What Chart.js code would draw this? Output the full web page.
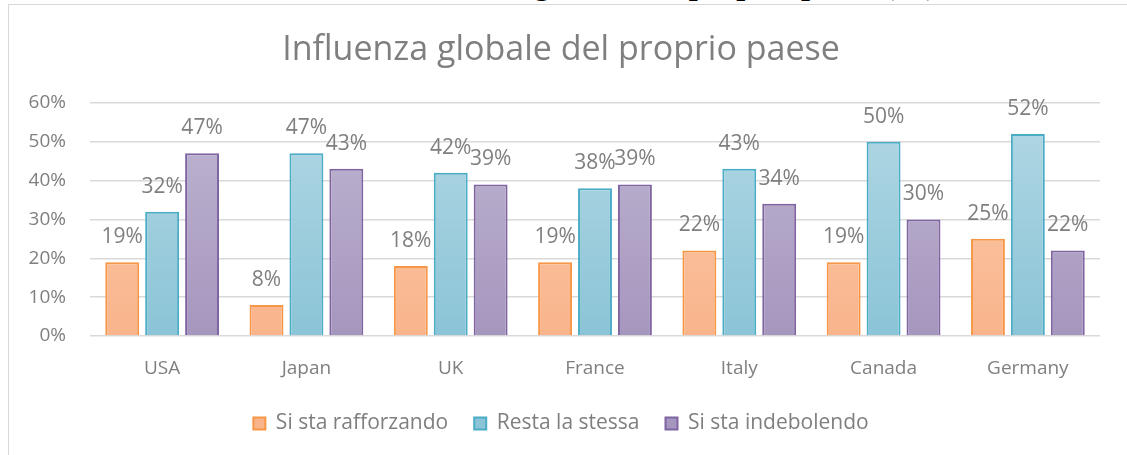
<!DOCTYPE html>
<html>
<head>
<meta charset="utf-8">
<script src="https://cdn.jsdelivr.net/npm/chart.js@4/dist/chart.umd.min.js"></script>
<style>
    html, body { margin: 0; padding: 0; background: #fff; overflow: hidden; width: 1127px; height: 455px; }
    #heading { position: absolute; right: 190px; top: -33px; font: bold 32px "Liberation Serif"; line-height: 32px; white-space: nowrap; color: #000; }
    #frame { position: absolute; left: 8px; top: 4px; width: 1200px; height: 500px; border-left: 1.5px solid #d9d9d9; border-top: 1.5px solid #d9d9d9; }
    #wrap { position: absolute; left: 0; top: 0; width: 1127px; height: 455px; }
</style>
</head>
<body>
<div id="heading">Influenza globale del proprio paese (%)</div>
<div id="frame"></div>
<div id="wrap"><canvas id="chart"></canvas></div>
<script>
    var countries = ['USA', 'Japan', 'UK', 'France', 'Italy', 'Canada', 'Germany'];
    var rafforzando = [19, 8, 18, 19, 22, 19, 25];
    var stessa = [32, 47, 42, 38, 43, 50, 52];
    var indebolendo = [47, 43, 39, 39, 34, 30, 22];
    var seriesNames = ['Si sta rafforzando', 'Resta la stessa', 'Si sta indebolendo'];
    var yMax = 60, yStep = 10;

    var grey = '#7f7f7f';
    var font = 'Open Sans';

    function gradient(top, bottom) {
        return function (ctx) {
            var area = ctx.chart.chartArea;
            if (!area) return bottom;
            var g = ctx.chart.ctx.createLinearGradient(0, area.top, 0, area.bottom);
            g.addColorStop(0, top);
            g.addColorStop(1, bottom);
            return g;
        };
    }

    // value labels above the bars
    var valueLabels = {
        id: 'valueLabels',
        afterDatasetsDraw: function (chart) {
            var ctx = chart.ctx;
            ctx.save();
            ctx.font = '21px "' + font + '"';
            ctx.fillStyle = grey;
            ctx.textAlign = 'center';
            ctx.textBaseline = 'middle';
            chart.data.datasets.forEach(function (ds, i) {
                chart.getDatasetMeta(i).data.forEach(function (bar, j) {
                    ctx.fillText(ds.data[j] + '%', bar.x, bar.y - 25);
                });
            });
            ctx.restore();
        }
    };

    new Chart(document.getElementById('chart'), {
        type: 'bar',
        data: {
            labels: countries,
            datasets: [
                { label: seriesNames[0], data: rafforzando, backgroundColor: gradient('#fbcdad', '#f9b48b'), borderColor: '#f79646', borderWidth: 2 },
                { label: seriesNames[1], data: stessa, backgroundColor: gradient('#b3d8e4', '#8bc4d7'), borderColor: '#4bacc6', borderWidth: 2 },
                { label: seriesNames[2], data: indebolendo, backgroundColor: gradient('#c0b6d1', '#a596be'), borderColor: '#8064a2', borderWidth: 2 }
            ]
        },
        options: {
            responsive: true,
            maintainAspectRatio: false,
            animation: false,
            categoryPercentage: 0.83,
            barPercentage: 0.85,
            layout: { padding: { left: 22, right: 27, top: 0, bottom: 11 } },
            plugins: {
                title: {
                    display: true,
                    text: 'Influenza globale del proprio paese',
                    color: grey,
                    font: { family: font, size: 34, weight: 'normal' },
                    padding: { top: 30, bottom: 32 }
                },
                legend: {
                    position: 'bottom',
                    labels: {
                        color: grey,
                        font: { family: font, size: 21 },
                        boxWidth: 12,
                        boxHeight: 12,
                        padding: 26
                    }
                },
                tooltip: { enabled: false }
            },
            scales: {
                x: {
                    grid: { display: false },
                    border: { display: false },
                    ticks: { color: grey, font: { family: font, size: 19 }, padding: 13 },
                    afterFit: function (scale) { scale.height = 51; }
                },
                y: {
                    min: 0,
                    max: yMax,
                    ticks: {
                        stepSize: yStep,
                        color: grey,
                        font: { family: font, size: 19 },
                        padding: 24,
                        callback: function (v) { return v + '%'; }
                    },
                    grid: { color: '#d9d9d9', lineWidth: 1.5, drawTicks: false },
                    border: { display: false },
                    afterFit: function (scale) { scale.width = 68; }
                }
            }
        },
        plugins: [valueLabels]
    });
</script>
</body>
</html>
